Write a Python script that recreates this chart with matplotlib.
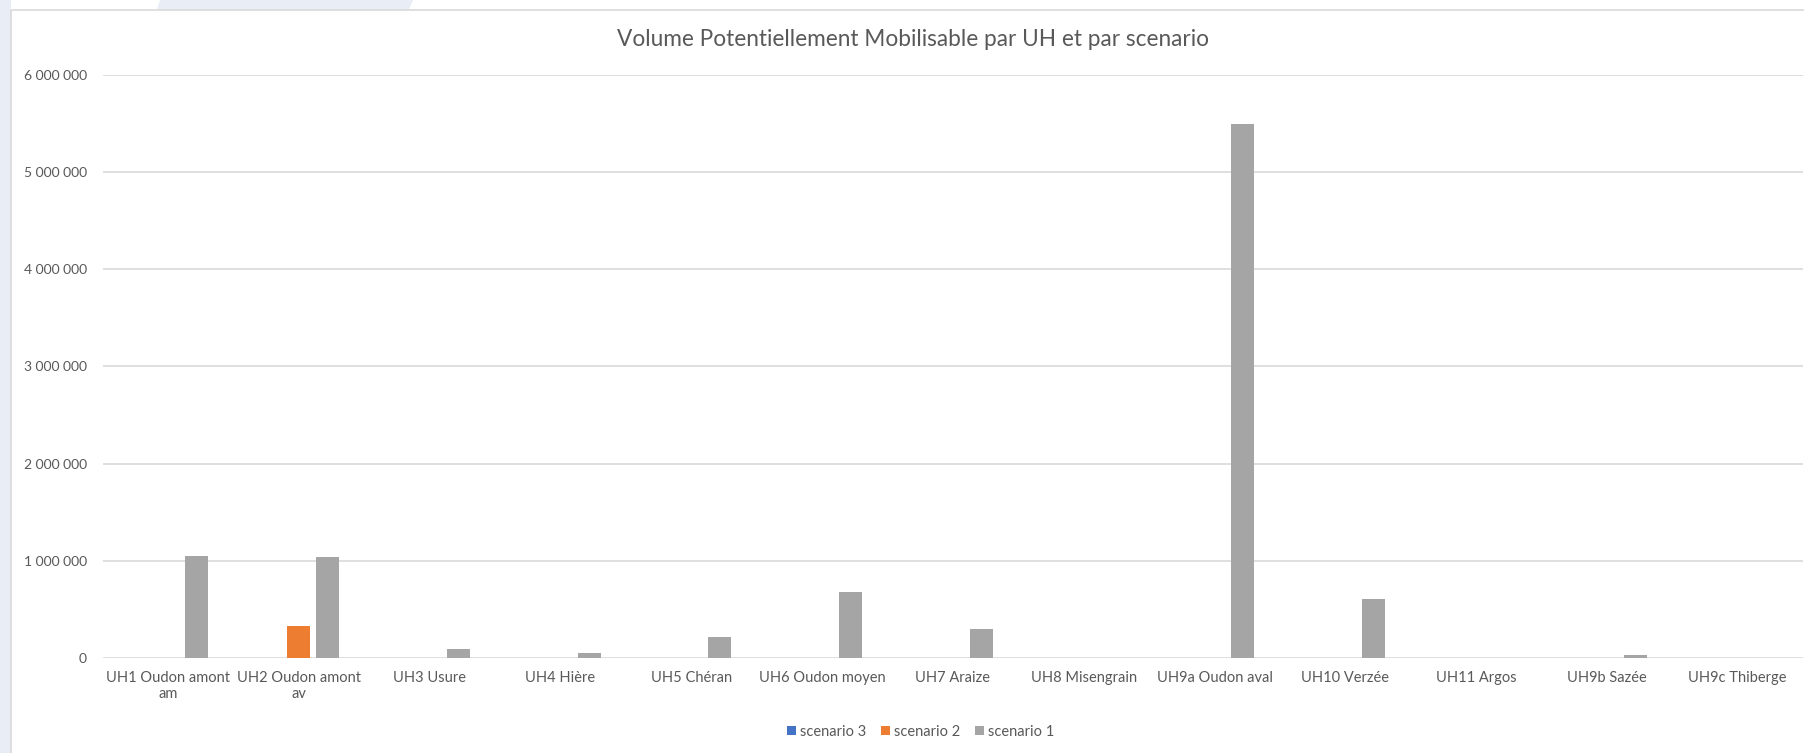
import textwrap
import numpy as np
import matplotlib
matplotlib.use('Agg')
import matplotlib.pyplot as plt
from matplotlib.patches import Rectangle, Polygon
from matplotlib.lines import Line2D
from matplotlib.ticker import FuncFormatter

# data
categories = ['UH1 Oudon amont am', 'UH2 Oudon amont av', 'UH3 Usure', 'UH4 Hière',
              'UH5 Chéran', 'UH6 Oudon moyen', 'UH7 Araize', 'UH8 Misengrain',
              'UH9a Oudon aval', 'UH10 Verzée', 'UH11 Argos', 'UH9b Sazée', 'UH9c Thiberge']
scenario_3 = [0, 0, 0, 0, 0, 0, 0, 0, 0, 0, 0, 0, 0]
scenario_2 = [0, 332000, 0, 0, 0, 0, 0, 0, 0, 0, 0, 0, 0]
scenario_1 = [1052000, 1039000, 96000, 51000, 219000, 685000, 298000, 0,
              5487000, 613000, 0, 31000, 0]
series_names = ['scenario 3', 'scenario 2', 'scenario 1']
y_ticks = [0, 1000000, 2000000, 3000000, 4000000, 5000000, 6000000]
title = 'Volume Potentiellement Mobilisable par UH et par scenario'

W, H = 1804, 753
plt.rcParams['font.family'] = ['Lato', 'DejaVu Sans']
txt = '#595959'
grid_c = '#D9D9D9'

fig = plt.figure(figsize=(W / 100, H / 100), dpi=100, facecolor='white')

def fx(px):
    return px / W

def fy(py):
    return 1 - py / H

# background bits around the chart box
fig.add_artist(Rectangle((0, 0), fx(11), 1, transform=fig.transFigure,
                         color='#E9EEF6', lw=0, zorder=0))
fig.add_artist(Polygon([(fx(160), fy(0)), (fx(413), fy(0)), (fx(409), fy(9.5)), (fx(157), fy(9.5))],
                       closed=True, transform=fig.transFigure, color='#E9EEF6', lw=0, zorder=0))
fig.add_artist(Line2D([fx(11), fx(11), 1], [0, fy(9.5), fy(9.5)], transform=fig.transFigure,
                      color=grid_c, lw=1.2, zorder=1))

ax = fig.add_axes([fx(102.8), fy(658.3), fx(1803) - fx(102.8), fy(74.5) - fy(658.3)])
ax.set_facecolor('none')

x = np.arange(len(categories))
w = 0.176
step = 0.218
colors = ['#4472C4', '#ED7D31', '#A5A5A5']
for j, (vals, name) in enumerate(zip([scenario_3, scenario_2, scenario_1], series_names)):
    ax.bar(x + (j - 1) * step, vals, width=w, color=colors[j], label=name, zorder=3)

ax.set_xlim(-0.5, len(categories) - 0.5)
ax.set_ylim(0, 6000000)
ax.set_yticks(y_ticks)
ax.yaxis.set_major_formatter(FuncFormatter(lambda v, p: f'{v:,.0f}'.replace(',', ' ')))
ax.set_xticks(x)
ax.set_xticklabels([textwrap.fill(c, 15) for c in categories])
ax.tick_params(axis='y', length=0, pad=11.5, labelsize=10, labelcolor=txt)
ax.tick_params(axis='x', length=0, pad=9, labelsize=10.5, labelcolor=txt)
ax.yaxis.grid(True, color=grid_c, lw=1.2, zorder=0)
for s in ax.spines.values():
    s.set_visible(False)

fig.text(fx(913), fy(39), title, ha='center', va='center', fontsize=16.3, color=txt)

fig.legend(loc='center', bbox_to_anchor=(fx(921), fy(732)), ncol=3, frameon=False,
           fontsize=10.5, labelcolor=txt, handlelength=0.6, handleheight=0.6,
           handletextpad=0.3, columnspacing=1.0)

fig.savefig('out.png', dpi=100, facecolor='white')
